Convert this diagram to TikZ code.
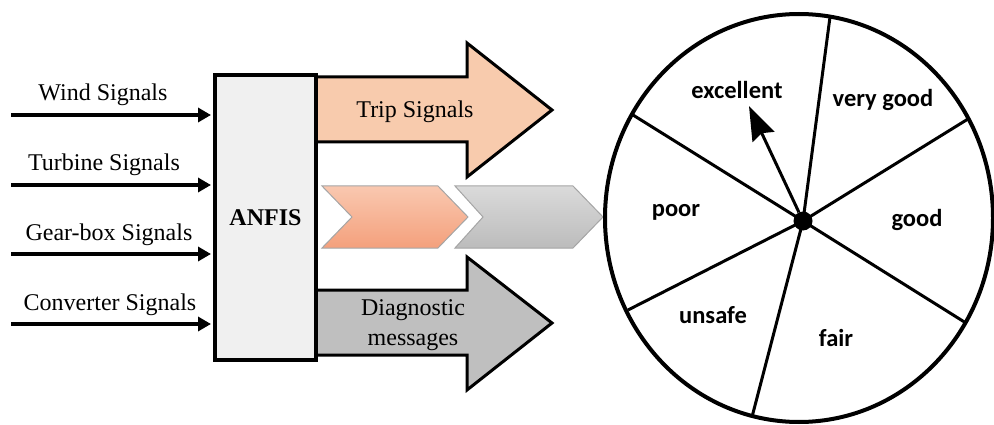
\documentclass[tikz,border=0pt]{standalone}
\usepackage{fontspec}
\setmainfont{Liberation Serif}
\newfontfamily\wheelfont{Carlito}
\usetikzlibrary{arrows.meta,positioning}
\definecolor{boxfill}{RGB}{240,240,240}
\definecolor{tripfill}{RGB}{248,203,173}
\definecolor{diagfill}{RGB}{191,191,191}
\definecolor{chevline}{RGB}{165,165,165}
\definecolor{orangetop}{RGB}{249,200,176}
\definecolor{orangebot}{RGB}{244,160,124}
\definecolor{graytop}{RGB}{218,218,218}
\definecolor{graybot}{RGB}{188,188,188}

\begin{document}
\begin{tikzpicture}[x=1pt, y=-1pt,
  sig/.style={font=\fontsize{24}{30}\selectfont, align=center},
  inarr/.style={line width=3.5pt, -{Triangle[length=13pt,width=14pt]}},
  bigarr/.style={draw, line width=3pt, line join=miter},
  chev/.style={draw=chevline, line width=1pt},
  grade/.style={font=\wheelfont\bfseries\fontsize{24.5}{28}\selectfont},
  spoke/.style={line width=3pt}]
\useasboundingbox (0,0) rectangle (994,425);

% output arrows (their tails go under the ANFIS block)
\draw[bigarr, fill=tripfill] (310,77) -- (467,77) -- (467,43) -- (552,110)
  -- (467,177) -- (467,142) -- (310,142);
\node[sig] (trip) at (415,112) {Trip Signals};
\draw[bigarr, fill=diagfill] (310,290) -- (467,290) -- (467,257) -- (552,323)
  -- (467,390) -- (467,355) -- (310,355);
\node[sig] (diag) at (413,325) {Diagnostic\\messages};

% chevrons towards the wheel
\path[chev, top color=orangetop, bottom color=orangebot] (322,186) -- (438,186)
  -- (468,217) -- (438,248) -- (322,248) -- (352,217) -- cycle;
\path[chev, top color=graytop, bottom color=graybot] (455,186) -- (573,186)
  -- (603,217) -- (573,248) -- (455,248) -- (483,217) -- cycle;

% the ANFIS block and its inputs
\node[draw, line width=4pt, fill=boxfill, minimum width=101pt, minimum height=285pt,
  inner sep=0pt, font=\fontsize{24}{28}\selectfont\bfseries] (anfis) at (265.5,217.5) {ANFIS};

\coordinate (wind) at (11,115);
\coordinate (turb) at (11,185);
\coordinate (gear) at (11,254);
\coordinate (conv) at (11,324);
\foreach \s in {wind,turb,gear,conv}
  \draw[inarr, shorten >=2pt] (\s) -- (\s -| anfis.west);
\node[sig] (lwind) at (103,95) {Wind Signals};
\node[sig] (lturb) at (104,165) {Turbine Signals};
\node[sig] (lgear) at (109,235) {Gear-box Signals};
\node[sig] (lconv) at (110,305) {Converter Signals};

% condition wheel
\draw[line width=4pt] (799,218) ellipse [x radius=194pt, y radius=204pt];
\coordinate (s1) at (830,17);
\coordinate (s2) at (968,119);
\coordinate (s3) at (966,323);
\coordinate (s4) at (752,417);
\coordinate (s5) at (628,310);
\coordinate (s6) at (633,115);
\coordinate (needle) at (749,106);
\node[circle, fill=black, minimum size=19pt, inner sep=0pt] (hub) at (803,221) {};
\foreach \s in {s1,s2,s3,s4,s5,s6}
  \draw[spoke] (hub.center) -- (\s);
\draw[line width=3pt, -{Stealth[length=34pt,width=24pt,inset=4pt]}] (hub) -- (needle);

\node[grade] (excellent) at (737,90) {excellent};
\node[grade] (verygood) at (883,100) {very good};
\node[grade] (poor) at (676,212) {poor};
\node[grade] (good) at (917,220) {good};
\node[grade] (unsafe) at (713,315) {unsafe};
\node[grade] (fair) at (836,338) {fair};
\end{tikzpicture}
\end{document}
